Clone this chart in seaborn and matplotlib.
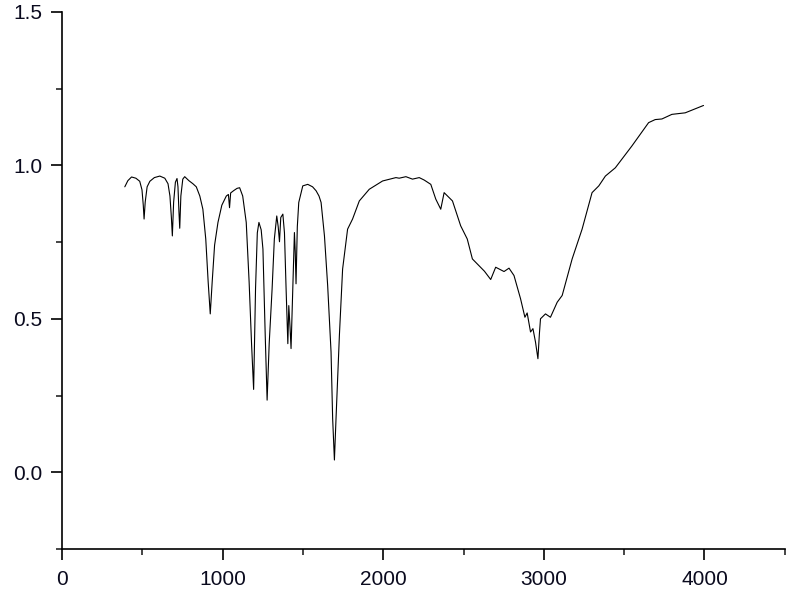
import matplotlib
matplotlib.use("Agg")
import matplotlib.pyplot as plt
import pandas as pd
import seaborn as sns
from matplotlib.ticker import MultipleLocator

# IR-like spectrum
wavenumber = [
    391, 410, 433, 460, 484, 498, 506, 511, 518, 530, 547, 575, 609, 640, 660, 672,
    681, 687, 695, 706, 716, 722, 728, 733, 740, 752, 764, 790, 815, 836, 858, 877,
    895, 910, 923, 935, 950, 971, 995, 1023, 1036, 1043, 1050, 1070, 1090, 1106,
    1125, 1147, 1165, 1180, 1193, 1205, 1216, 1226, 1240, 1251, 1265, 1277, 1290,
    1308, 1322, 1337, 1346, 1354, 1362, 1375, 1385, 1395, 1406, 1412, 1420, 1426,
    1437, 1447, 1452, 1457, 1465, 1474, 1499, 1530, 1560, 1582, 1600, 1613, 1634,
    1654, 1675, 1685, 1696, 1706, 1727, 1747, 1778, 1809, 1851, 1913, 1996, 2040,
    2079, 2099, 2141, 2182, 2224, 2255, 2296, 2327, 2358, 2379, 2431, 2482, 2523,
    2555, 2596, 2630, 2669, 2700, 2752, 2783, 2814, 2855, 2882, 2896, 2917, 2932,
    2948, 2963, 2972, 2979, 3010, 3041, 3083, 3114, 3176, 3238, 3300, 3342, 3383,
    3445, 3548, 3652, 3693, 3735, 3797, 3880, 3994,
]
signal = [
    0.930, 0.950, 0.962, 0.958, 0.948, 0.920, 0.870, 0.825, 0.880, 0.930, 0.948,
    0.960, 0.965, 0.958, 0.940, 0.900, 0.830, 0.770, 0.880, 0.945, 0.957, 0.930,
    0.850, 0.795, 0.900, 0.955, 0.963, 0.950, 0.940, 0.930, 0.900, 0.857, 0.760,
    0.620, 0.516, 0.620, 0.740, 0.814, 0.870, 0.900, 0.905, 0.862, 0.910, 0.918,
    0.925, 0.927, 0.900, 0.814, 0.620, 0.420, 0.270, 0.600, 0.780, 0.814, 0.790,
    0.727, 0.450, 0.235, 0.420, 0.597, 0.760, 0.835, 0.800, 0.751, 0.830, 0.841,
    0.780, 0.600, 0.419, 0.543, 0.470, 0.403, 0.600, 0.781, 0.720, 0.614, 0.800,
    0.879, 0.933, 0.938, 0.930, 0.917, 0.900, 0.879, 0.770, 0.608, 0.392, 0.175,
    0.040, 0.175, 0.446, 0.662, 0.792, 0.825, 0.884, 0.922, 0.949, 0.955, 0.960,
    0.958, 0.963, 0.955, 0.960, 0.952, 0.938, 0.890, 0.857, 0.911, 0.884, 0.803,
    0.760, 0.695, 0.673, 0.655, 0.628, 0.668, 0.654, 0.665, 0.641, 0.565, 0.505,
    0.519, 0.457, 0.468, 0.424, 0.370, 0.450, 0.500, 0.516, 0.505, 0.554, 0.576,
    0.695, 0.792, 0.911, 0.933, 0.965, 0.992, 1.063, 1.139, 1.149, 1.151, 1.166,
    1.171, 1.195,
]

df = pd.DataFrame({"wavenumber": wavenumber, "signal": signal})

sns.set_style("ticks")
plt.rcParams["font.family"] = ["Liberation Sans", "DejaVu Sans"]

fig = plt.figure(figsize=(8, 5.92), dpi=100)
ax = fig.add_axes([0.0775, 0.0726, 0.9035, 0.9074])

sns.lineplot(data=df, x="wavenumber", y="signal", sort=False, color="black",
             linewidth=0.8, ax=ax)

ax.set_xlim(0, 4500)
ax.set_ylim(-0.25, 1.5)
ax.xaxis.set_major_locator(MultipleLocator(1000))
ax.xaxis.set_minor_locator(MultipleLocator(500))
ax.yaxis.set_major_locator(MultipleLocator(0.5))
ax.yaxis.set_minor_locator(MultipleLocator(0.25))
ax.yaxis.set_major_formatter(plt.FormatStrFormatter("%.1f"))

ax.tick_params(which="major", direction="out", length=8, width=1.2, pad=6,
               labelsize=15, colors="black", labelcolor="#0a0a1e")
ax.tick_params(axis="x", which="major", pad=7)
ax.tick_params(which="minor", direction="out", length=4, width=1.2)
for side in ["left", "bottom"]:
    ax.spines[side].set_linewidth(1.2)
    ax.spines[side].set_color("black")
sns.despine(ax=ax)

ax.set_xlabel("")
ax.set_ylabel("")

fig.savefig("out.png", dpi=100)
